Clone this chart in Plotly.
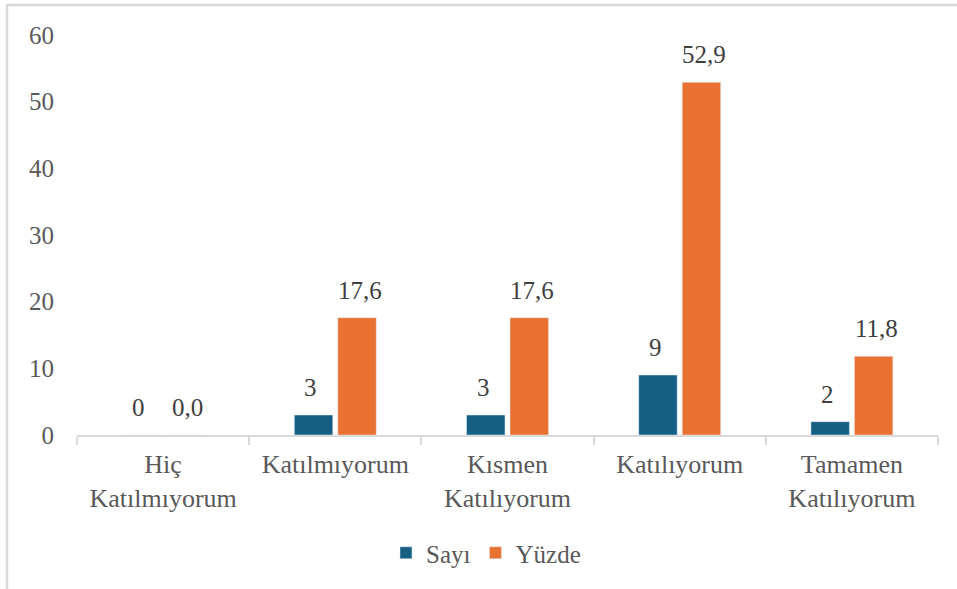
import plotly.graph_objects as go

categories = ["Hiç<br>Katılmıyorum", "Katılmıyorum", "Kısmen<br>Katılıyorum", "Katılıyorum", "Tamamen<br>Katılıyorum"]
sayi = [0, 3, 3, 9, 2]
yuzde = [0.0, 17.6, 17.6, 52.9, 11.8]
y_ticks = [0, 10, 20, 30, 40, 50, 60]

FONT = "Liberation Serif"
GRAY = "#595959"
LINE = "#d9d9d9"

fig = go.Figure()
fig.add_trace(go.Bar(name="Sayı", x=categories, y=sayi, marker_color="#156082"))
fig.add_trace(go.Bar(name="Yüzde", x=categories, y=yuzde, marker_color="#E97132"))

annotations = []
for series, shift, fmt in [(sayi, -24.5, lambda v: str(v)), (yuzde, 24.5, lambda v: f"{v:.1f}".replace(".", ","))]:
    for c, v in zip(categories, series):
        annotations.append(dict(x=c, y=v, xref="x", yref="y", text=fmt(v), showarrow=False,
                                xshift=shift, yshift=12, yanchor="bottom",
                                font=dict(family=FONT, size=25, color="#404040")))

fig.update_layout(
    width=957, height=589,
    margin=dict(l=77, r=19, t=35, b=154),
    paper_bgcolor="white", plot_bgcolor="white",
    font=dict(family=FONT, size=25, color=GRAY),
    barmode="group", bargap=0.495, bargroupgap=0.115,
    showlegend=True,
    legend=dict(orientation="h", x=0.475, xanchor="center", y=-0.295, yanchor="middle",
                font=dict(family=FONT, size=25, color=GRAY), itemwidth=30),
    xaxis=dict(showline=True, linecolor=LINE, linewidth=2, ticks="outside", tickson="boundaries",
               ticklen=8, tickcolor=LINE, tickwidth=2, showgrid=False, ticklabelstandoff=5,
               tickfont=dict(family=FONT, size=26, color=GRAY)),
    yaxis=dict(range=[0, 60], tickvals=y_ticks, showgrid=False, zeroline=False, showline=False,
               ticklabelstandoff=22, tickfont=dict(family=FONT, size=25, color=GRAY)),
    annotations=annotations,
    shapes=[dict(type="rect", xref="paper", yref="paper",
                 x0=(7 - 77) / 861, x1=(990 - 77) / 861,
                 y0=(435 - 620) / 400, y1=(435 - 5) / 400,
                 line=dict(color=LINE, width=2.5), fillcolor="rgba(0,0,0,0)", layer="below")],
)

fig.write_html("out.html", config={"displayModeBar": False},
               post_script="document.body.style.margin='0';")
